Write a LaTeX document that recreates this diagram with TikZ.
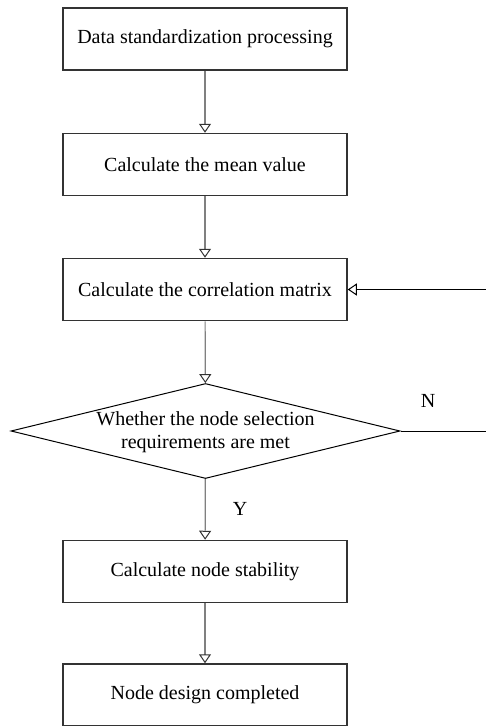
\documentclass[tikz,border=0pt]{standalone}
\usepackage{fontspec}
\setmainfont{Liberation Serif}
\usetikzlibrary{shapes.geometric,arrows.meta}
\begin{document}
\begin{tikzpicture}[x=1pt,y=-1pt,
  box/.style={draw=black!80, line width=1.5pt, minimum width=284pt, minimum height=62pt, inner sep=0pt, font=\fontsize{20}{23}\selectfont},
  conn/.style={draw=black!50, line width=1.2pt, -{Triangle[open,width=12pt,length=9pt,line width=1pt,color=black!80]}},
  loop/.style={draw=black, line width=1pt, -{Triangle[open,width=12pt,length=9pt,line width=1pt]}},
  lbl/.style={font=\fontsize{20}{23}\selectfont, inner sep=0pt}]
\useasboundingbox (0,0) rectangle (485,726);
\node[box] (b1) at (205,39) {Data standardization processing};
\node[box] (b2) at (205,164.5) {Calculate the mean value};
\node[box] (b3) at (205,289.5) {Calculate the correlation matrix};
\node[diamond, draw=black, line width=1pt, minimum width=389pt, minimum height=95pt, inner sep=0pt] (dec) at (205.5,431) {};
\node[lbl, align=center] (dectext) at (205.5,432) {Whether the node selection\\requirements are met};
\node[box] (b4) at (205,571.5) {Calculate node stability};
\node[box] (b5) at (205,695) {Node design completed};
\coordinate (lp) at (487,431);
\draw[conn] (b1) -- (b2);
\draw[conn] (b2) -- (b3);
\draw[conn] (b3) -- (dec);
\draw[conn] (dec) -- (b4);
\draw[conn] (b4) -- (b5);
\draw[loop] (dec.east) -- (lp) |- (b3.east);
\node[lbl] (n) at (428,401) {N};
\node[lbl] (y) at (240,509) {Y};
\end{tikzpicture}
\end{document}
